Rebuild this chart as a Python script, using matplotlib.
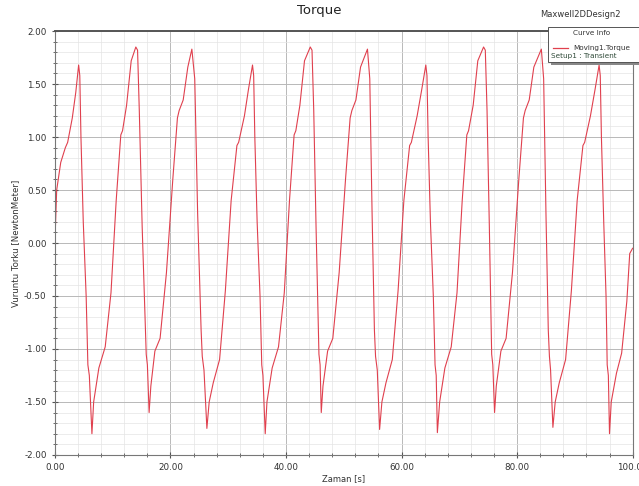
import matplotlib.pyplot as plt
from matplotlib.patches import Rectangle
from matplotlib.ticker import MultipleLocator, FormatStrFormatter

# Torque curve (time in s, torque in N.m)
time_s = [
    0.0, 0.3, 1.0, 1.8, 2.2, 3.0, 3.6, 4.1, 4.3, 4.5, 4.9, 5.4, 5.7, 5.95,
    6.4, 6.7, 7.6, 8.7, 9.7, 10.6, 11.4, 11.7, 12.4, 13.2, 14.0, 14.3, 14.6,
    15.1, 15.8, 16.0, 16.3, 16.6, 17.3, 18.2, 19.3, 20.4, 21.2, 21.5, 22.2,
    23.0, 23.7, 24.2, 24.7, 25.3, 25.5, 25.8, 26.3, 26.7, 27.4, 28.5, 29.5,
    30.5, 31.5, 31.8, 32.8, 33.5, 34.2, 34.4, 34.6, 35.0, 35.5, 35.8, 36.0,
    36.4, 36.7, 37.6, 38.7, 39.7, 40.6, 41.4, 41.7, 42.4, 43.2, 44.2, 44.5,
    44.8, 45.2, 45.7, 45.9, 46.1, 46.4, 47.2, 48.1, 49.2, 50.3, 51.1, 51.4,
    52.1, 52.9, 54.1, 54.5, 54.9, 55.3, 55.5, 55.8, 56.2, 56.6, 57.3, 58.4,
    59.4, 60.4, 61.4, 61.7, 62.7, 63.5, 64.2, 64.4, 64.6, 65.0, 65.5, 65.8,
    66.0, 66.2, 66.6, 67.5, 68.6, 69.6, 70.5, 71.3, 71.6, 72.4, 73.2, 74.2,
    74.5, 74.8, 75.2, 75.6, 75.8, 76.1, 76.4, 77.2, 78.1, 79.2, 80.3, 81.1,
    81.4, 82.1, 82.9, 84.2, 84.6, 85.0, 85.4, 85.6, 85.8, 86.2, 86.6, 87.3,
    88.4, 89.4, 90.4, 91.4, 91.7, 92.7, 93.5, 94.2, 94.4, 94.6, 95.0, 95.4,
    95.6, 95.8, 96.0, 96.3, 97.2, 98.1, 99.0, 99.5, 100.0,
]
torque_nm = [
    0.02, 0.50, 0.76, 0.90, 0.95, 1.18, 1.42, 1.68, 1.58, 1.00, 0.20, -0.50, -1.15, -1.25,
    -1.80, -1.50, -1.18, -0.98, -0.47, 0.40, 1.02, 1.06, 1.30, 1.72, 1.85, 1.82, 1.25,
    0.15, -1.05, -1.15, -1.60, -1.35, -1.02, -0.90, -0.28, 0.60, 1.18, 1.25, 1.35,
    1.66, 1.83, 1.55, 0.28, -0.82, -1.07, -1.20, -1.75, -1.50, -1.32, -1.10, -0.45,
    0.40, 0.92, 0.95, 1.20, 1.45, 1.68, 1.58, 1.00, 0.20, -0.50, -1.15, -1.25,
    -1.80, -1.50, -1.18, -0.98, -0.47, 0.40, 1.02, 1.06, 1.30, 1.72, 1.85, 1.82,
    1.25, 0.15, -1.05, -1.15, -1.60, -1.35, -1.02, -0.90, -0.28, 0.60, 1.18, 1.25,
    1.35, 1.66, 1.83, 1.55, 0.28, -0.82, -1.07, -1.20, -1.76, -1.50, -1.32, -1.10,
    -0.45, 0.40, 0.92, 0.95, 1.20, 1.45, 1.68, 1.58, 1.00, 0.20, -0.50, -1.15,
    -1.25, -1.79, -1.50, -1.18, -0.98, -0.47, 0.40, 1.02, 1.06, 1.30, 1.72, 1.85,
    1.82, 1.25, 0.15, -1.05, -1.15, -1.60, -1.35, -1.02, -0.90, -0.28, 0.60, 1.18,
    1.25, 1.35, 1.66, 1.83, 1.55, 0.28, -0.82, -1.07, -1.20, -1.74, -1.50, -1.32,
    -1.10, -0.45, 0.40, 0.92, 0.95, 1.20, 1.45, 1.68, 1.58, 1.00, 0.20, -0.50,
    -1.15, -1.25, -1.80, -1.50, -1.23, -1.04, -0.55, -0.10, -0.05,
]

title = "Torque"
design_name = "Maxwell2DDesign2"
x_label = "Zaman [s]"
y_label = "Vuruntu Torku [NewtonMeter]"
legend_rows = ["Curve Info", "Moving1.Torque", "Setup1 : Transient"]

fig = plt.figure(figsize=(6.39, 4.86), dpi=100)
ax = fig.add_axes([0.086, 0.064, 0.904, 0.872])

ax.plot(time_s, torque_nm, color="#e0404e", linewidth=0.8)

ax.set_xlim(0, 100)
ax.set_ylim(-2, 2)
ax.xaxis.set_major_locator(MultipleLocator(20))
ax.xaxis.set_minor_locator(MultipleLocator(4))
ax.yaxis.set_major_locator(MultipleLocator(0.5))
ax.yaxis.set_minor_locator(MultipleLocator(0.1))
ax.xaxis.set_major_formatter(FormatStrFormatter("%.2f"))
ax.yaxis.set_major_formatter(FormatStrFormatter("%.2f"))

ax.grid(True, which="major", color="#b8b8b8", linewidth=0.7)
ax.grid(True, which="minor", color="#e4e4e4", linewidth=0.5)
ax.set_axisbelow(True)

ax.tick_params(axis="both", which="major", direction="inout", length=5,
               width=0.8, color="#555555", labelsize=6.3, labelcolor="#333333")
ax.tick_params(axis="both", which="minor", direction="inout", length=3,
               width=0.6, color="#555555")
ax.tick_params(axis="x", pad=3)

for side in ["left", "bottom", "right"]:
    ax.spines[side].set_color("#777777")
    ax.spines[side].set_linewidth(0.8)
ax.spines["top"].set_color("#555555")
ax.spines["top"].set_linewidth(1.4)

ax.set_xlabel(x_label, fontsize=6, color="#333333", labelpad=2)
ax.set_ylabel(y_label, fontsize=6.2, color="#333333", labelpad=3)

fig.text(0.50, 0.978, title, ha="center", va="center", fontsize=9.5, color="#222222")
fig.text(0.845, 0.970, design_name, ha="left", va="center", fontsize=6, color="#333333")

# Curve info box in the top-right corner, partly cut by the figure edge
box_shadow = Rectangle((0.862, 0.866), 0.16, 0.072, transform=fig.transFigure,
                       facecolor="#888888", edgecolor="none", zorder=5)
box = Rectangle((0.858, 0.872), 0.16, 0.072, transform=fig.transFigure,
                facecolor="white", edgecolor="#555555", linewidth=0.7, zorder=6)
fig.add_artist(box_shadow)
fig.add_artist(box)
fig.text(0.925, 0.932, legend_rows[0], ha="center", va="center", fontsize=5.2,
         color="#333333", zorder=7)
fig.add_artist(plt.Line2D([0.866, 0.889], [0.901, 0.901], transform=fig.transFigure,
                          color="#e0404e", linewidth=0.9, zorder=7))
fig.text(0.897, 0.901, legend_rows[1], ha="left", va="center", fontsize=5.2,
         color="#333333", zorder=7)
fig.text(0.862, 0.884, legend_rows[2], ha="left", va="center", fontsize=5.2,
         color="#2f4a38", zorder=7)

fig.savefig("out.png", dpi=100)
